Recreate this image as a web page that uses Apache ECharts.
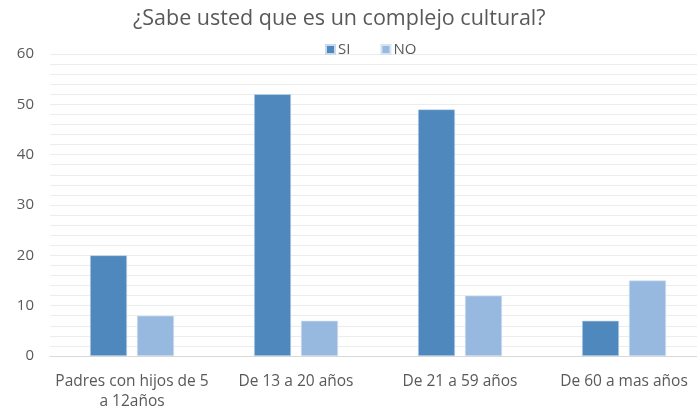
<!DOCTYPE html>
<html>
<head>
<meta charset="utf-8">
<script src="https://cdn.jsdelivr.net/npm/echarts@6/dist/echarts.min.js"></script>
<style>
  html, body { margin: 0; padding: 0; background: #fff; }
  #chart { width: 697px; height: 412px; }
</style>
</head>
<body>
<div id="chart"></div>
<script>
var categories = ['Padres con hijos de 5\na 12años', 'De 13 a 20 años', 'De 21 a 59 años', 'De 60 a mas años'];
var siValues = [20, 52, 49, 7];
var noValues = [8, 7, 12, 15];
var yTicks = [0, 10, 20, 30, 40, 50, 60];

var myChart = echarts.init(document.getElementById('chart'));
var textColor = '#595959';
var option = {
  animation: false,
  title: {
    text: '¿Sabe usted que es un complejo cultural?',
    left: 128,
    top: 3,
    textStyle: { fontFamily: 'Open Sans', fontSize: 21.5, fontWeight: 'normal', color: textColor }
  },
  legend: {
    top: 42,
    left: 325,
    padding: 0,
    itemWidth: 9,
    itemHeight: 9,
    itemGap: 30,
    icon: 'rect',
    textStyle: { fontFamily: 'Open Sans', fontSize: 15, color: textColor, padding: [0, 0, 0, -2] },
    data: ['SI', 'NO']
  },
  grid: {
    left: 50,
    top: 54,
    width: 656,
    height: 302,
    containLabel: false,
    outerBoundsMode: 'none'
  },
  xAxis: {
    type: 'category',
    data: categories,
    axisTick: { show: false },
    axisLine: { lineStyle: { color: '#d9d9d9', width: 1 } },
    axisLabel: {
      interval: 0,
      margin: 16,
      fontFamily: 'Open Sans',
      fontSize: 15.5,
      lineHeight: 20,
      color: textColor
    }
  },
  yAxis: {
    type: 'value',
    min: yTicks[0],
    max: yTicks[yTicks.length - 1],
    interval: 10,
    axisLine: { show: false },
    axisTick: { show: false },
    axisLabel: { margin: 16, fontFamily: 'Open Sans', fontSize: 15, color: textColor },
    splitLine: { lineStyle: { color: '#ececec', width: 1 } },
    minorTick: { show: false, splitNumber: 5 },
    minorSplitLine: { show: true, lineStyle: { color: '#ececec', width: 1 } }
  },
  series: [
    {
      name: 'SI',
      type: 'bar',
      data: siValues,
      barWidth: 37,
      barGap: '27%',
      itemStyle: { color: '#4f88bd', borderColor: '#c9daee', borderWidth: 0.6 }
    },
    {
      name: 'NO',
      type: 'bar',
      data: noValues,
      barWidth: 37,
      itemStyle: { color: '#97b9e0', borderColor: '#d6e3f3', borderWidth: 0.6 }
    }
  ]
};
myChart.setOption(option);
</script>
</body>
</html>
